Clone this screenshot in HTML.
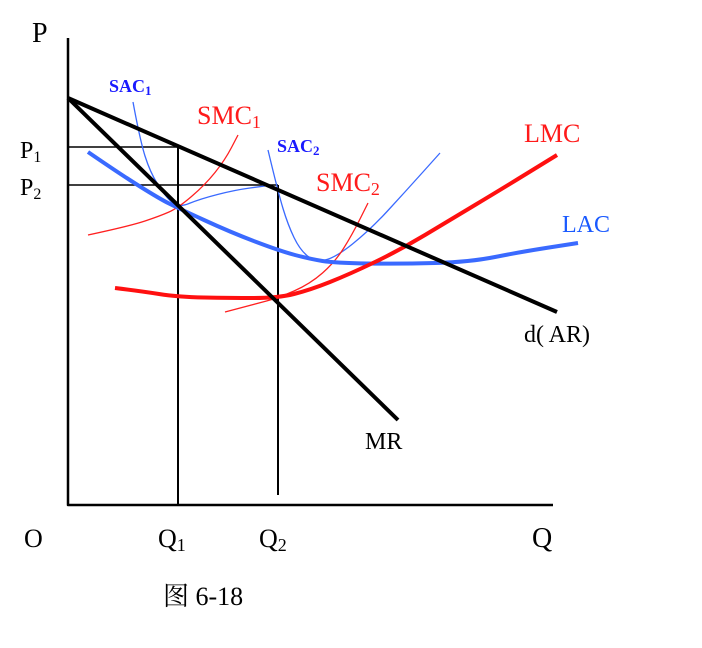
<!DOCTYPE html>
<html><head><meta charset="utf-8"><style>
html,body{margin:0;padding:0;background:#fff;}
svg{display:block;}
text{font-family:"Liberation Serif","Noto Serif CJK SC",serif;}
</style></head><body>
<svg id="chart" width="702" height="648" viewBox="0 0 702 648">
<g id="curves"></g>
<g>
<text x="32" y="42" font-size="28">P</text>
<text x="24" y="547" font-size="26">O</text>
<text x="532" y="547" font-size="28">Q</text>
<text x="158" y="547" font-size="26">Q<tspan font-size="18" dy="4">1</tspan></text>
<text x="259" y="547" font-size="26">Q<tspan font-size="18" dy="4">2</tspan></text>
<text x="20" y="158" font-size="24">P<tspan font-size="16" dy="4">1</tspan></text>
<text x="20" y="195" font-size="24">P<tspan font-size="16" dy="4">2</tspan></text>
<text x="109" y="92" font-size="18" font-weight="bold" fill="#1a1aff">SAC<tspan font-size="13" dy="3">1</tspan></text>
<text x="197" y="124" font-size="26" fill="#ff1a1a">SMC<tspan font-size="18" dy="4">1</tspan></text>
<text x="277" y="152" font-size="18" font-weight="bold" fill="#1a1aff">SAC<tspan font-size="13" dy="3">2</tspan></text>
<text x="316" y="191" font-size="26" fill="#ff1a1a">SMC<tspan font-size="18" dy="4">2</tspan></text>
<text x="524" y="142" font-size="26" fill="#ff1a1a">LMC</text>
<text x="562" y="232" font-size="24" fill="#1a5aff">LAC</text>
<text x="524" y="342" font-size="24">d( AR)</text>
<text x="365" y="449" font-size="24">MR</text>
<text x="163" y="605" font-size="26">图 6-18</text>
</g>
</svg>
<script>
// Curve shapes (schematic diagram)
const axisPoints = [[68,38],[68,505],[553,505]];
const demandPoints = [[68,98],[557,312]];
const mrPoints = [[68,98],[398,420]];
const p1Guide = [[68,147],[178,147]];
const p2Guide = [[68,185],[278,185]];
const q1Guide = [[178,147],[178,505]];
const q2Guide = [[278,185],[278,495]];
const lacPoints = [[88,152],[120,174],[160,199],[178,208],[230,232],[280,251],[310,259],[335,263],[400,264],[470,262],[520,252],[578,243]];
const lmcPoints = [[115,288],[140,291],[178,297],[230,298],[278,298],[310,290],[350,274],[400,250],[450,220],[500,190],[557,155]];
const sac1Points = [[133,102],[140,140],[150,172],[165,196],[178,208],[200,199],[235,190],[265,186]];
const sac2Points = [[268,150],[278,192],[288,225],[300,250],[315,262],[335,258],[370,230],[405,192],[440,153]];
const smc1Points = [[88,235],[130,226],[160,216],[178,208],[205,185],[225,160],[238,135]];
const smc2Points = [[225,312],[255,304],[278,298],[310,284],[335,262],[352,235],[368,203]];

const svg = document.getElementById('curves');
function path(pts, color, w, name, straight){
  const p = document.createElementNS('http://www.w3.org/2000/svg','path');
  let d = 'M' + pts[0][0] + ' ' + pts[0][1];
  if (pts.length > 2 && !straight) {
    for (let i = 1; i < pts.length - 1; i++) {
      const mx = (pts[i][0] + pts[i+1][0]) / 2, my = (pts[i][1] + pts[i+1][1]) / 2;
      d += ' Q' + pts[i][0] + ' ' + pts[i][1] + ' ' + mx + ' ' + my;
    }
    const l = pts[pts.length-1]; d += ' L' + l[0] + ' ' + l[1];
  } else {
    for (let i = 1; i < pts.length; i++) d += ' L' + pts[i][0] + ' ' + pts[i][1];
  }
  p.setAttribute('d', d);
  p.setAttribute('fill', 'none');
  p.setAttribute('stroke', color);
  p.setAttribute('stroke-width', w);
  p.setAttribute('stroke-linejoin', 'round');
  
  
  svg.appendChild(p);
}
path(p1Guide, '#000', 1.5, 'p1-guide-line', true);
path(p2Guide, '#000', 1.5, 'p2-guide-line', true);
path(q1Guide, '#000', 2, 'q1-guide-line', true);
path(q2Guide, '#000', 2, 'q2-guide-line', true);
path(sac1Points, '#3a6aff', 1.3, 'sac1-curve', false);
path(sac2Points, '#3a6aff', 1.3, 'sac2-curve', false);
path(smc1Points, '#ff2020', 1.3, 'smc1-curve', false);
path(smc2Points, '#ff2020', 1.3, 'smc2-curve', false);
path(lacPoints, '#3a6aff', 4, 'lac-curve', false);
path(lmcPoints, '#ff1010', 4, 'lmc-curve', false);
path(demandPoints, '#000', 4, 'demand-ar-line', true);
path(mrPoints, '#000', 4, 'mr-line', true);
path(axisPoints, '#000', 2.5, 'axes', true);
</script>
</body></html>
